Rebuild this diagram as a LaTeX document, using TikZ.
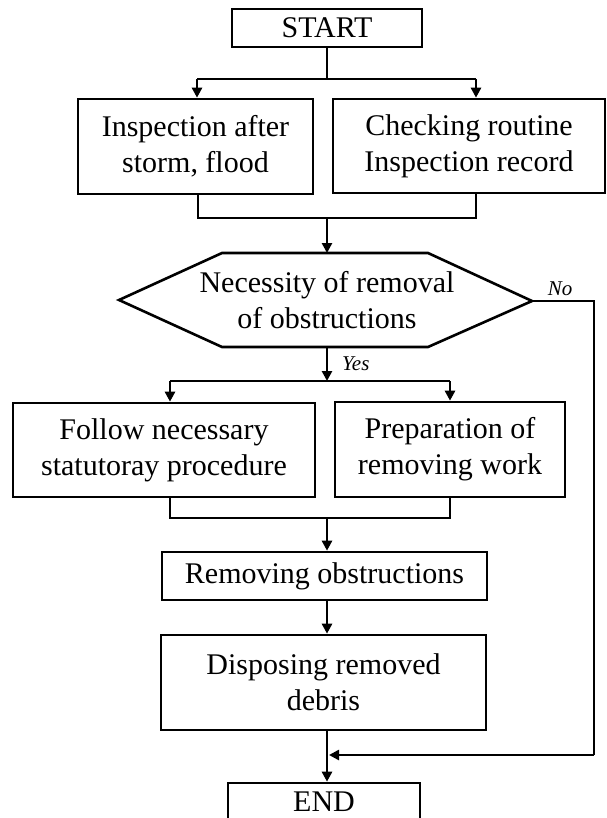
\documentclass[tikz,border=0pt]{standalone}
\usepackage{fontspec}
\setmainfont{Liberation Serif}
\usetikzlibrary{arrows.meta}
\begin{document}
\begin{tikzpicture}[x=1pt,y=-1pt,
  line/.style={line width=2.6pt},
  arr/.style={line, -{Triangle[length=10pt,width=10pt]}},
  stepbox/.style={draw, line width=2.6pt, rectangle, inner sep=0pt, align=center,
    font=\fontsize{30}{36}\selectfont},
  lbl/.style={font=\fontsize{21}{24}\selectfont\itshape, inner sep=0pt}]
\path[use as bounding box] (0,0) rectangle (606,818);
\clip (0,0) rectangle (606,818);

% process boxes
\node[stepbox, minimum width=190pt, minimum height=38pt] (start) at (327,28) {START};
\node[stepbox, minimum width=235pt, minimum height=95pt] (insp) at (195.5,146.5) {Inspection after\\storm, flood};
\node[stepbox, minimum width=272pt, minimum height=94pt] (check) at (469,146) {Checking routine\\Inspection record};
\node[stepbox, minimum width=302pt, minimum height=94pt] (follow) at (164,450) {Follow necessary\\statutoray procedure};
\node[stepbox, minimum width=230pt, minimum height=95pt] (prep) at (450,449.5) {Preparation of\\removing work};
\node[stepbox, minimum width=325pt, minimum height=48pt] (remove) at (324.5,576) {Removing obstructions};
\node[stepbox, minimum width=325pt, minimum height=95pt] (dispose) at (323.5,682.5) {Disposing removed\\debris};
\node[stepbox, minimum width=192pt, minimum height=38pt] (end) at (324,802) {END};

% decision hexagon
\coordinate (hL) at (119,300);
\coordinate (hTL) at (222,253);
\coordinate (hTR) at (428,253);
\coordinate (hR) at (532,301);
\coordinate (hBR) at (428,347);
\coordinate (hBL) at (222,347);
\coordinate (hT) at (327,253);
\coordinate (hB) at (327,347);
\draw[line, line join=miter] (hL) -- (hTL) -- (hTR) -- (hR) -- (hBR) -- (hBL) -- cycle;
\node[align=center, inner sep=0pt, font=\fontsize{30}{36}\selectfont] (need) at (327,300) {Necessity of removal\\of obstructions};

% split after START
\coordinate (j1) at (327,79);
\coordinate (j1L) at (197,79);
\coordinate (j1R) at (476,79);
\draw[line] (start.south) -- (j1);
\draw[line] (j1L) -- (j1R);
\draw[arr] (j1L) -- (j1L |- insp.north);
\draw[arr] (j1R) -- (j1R |- check.north);

% merge into the decision
\coordinate (m1) at (327,218);
\coordinate (m1L) at (198,218);
\coordinate (m1R) at (476,218);
\draw[line] (m1L |- insp.south) -- (m1L) -- (m1R) -- (m1R |- check.south);
\draw[arr] (m1) -- (hT);

% Yes branch
\coordinate (j2) at (327,381);
\coordinate (j2L) at (170,381);
\coordinate (j2R) at (450,381);
\draw[arr] (hB) -- (j2);
\node[lbl, anchor=west] (yes) at (342,364) {Yes};
\draw[line] (j2L) -- (j2R);
\draw[arr] (j2L) -- (j2L |- follow.north);
\draw[arr] (j2R) -- (j2R |- prep.north);

% merge into removal
\coordinate (m2) at (327,518);
\coordinate (m2L) at (170,518);
\coordinate (m2R) at (450,518);
\draw[line] (m2L |- follow.south) -- (m2L) -- (m2R) -- (m2R |- prep.south);
\draw[arr] (m2) -- (m2 |- remove.north);
\draw[arr] (remove.south -| m2) -- (m2 |- dispose.north);
\draw[arr] (dispose.south -| m2) -- (m2 |- end.north);

% No branch
\coordinate (n1) at (594,301);
\coordinate (n2) at (594,755);
\coordinate (n3) at (329,755);
\node[lbl] (no) at (560,289) {No};
\draw[line] (hR) -- (n1) -- (n2);
\draw[arr] (n2) -- (n3);
\end{tikzpicture}
\end{document}
